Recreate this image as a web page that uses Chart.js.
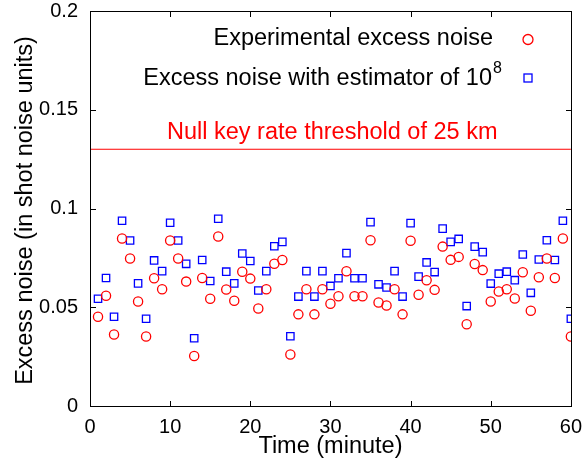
<!DOCTYPE html>
<html>
<head>
<meta charset="utf-8">
<script src="https://cdn.jsdelivr.net/npm/chart.js@4"></script>
<style>
  body { margin: 0; background: #fff; }
  #wrap { width: 583px; height: 465px; }
</style>
</head>
<body>
<div id="wrap"><canvas id="myChart" width="583" height="465"></canvas></div>
<script>
// minutes 1..60
const minutes = Array.from({ length: 60 }, (_, i) => i + 1);

// red circles
const experimentalNoise = [
  0.0452, 0.0558, 0.0362, 0.0848, 0.0747, 0.0529, 0.0352, 0.0647, 0.0591, 0.0838,
  0.0747, 0.0630, 0.0253, 0.0648, 0.0543, 0.0858, 0.0590, 0.0533, 0.0680, 0.0645,
  0.0494, 0.0591, 0.0720, 0.0739, 0.0261, 0.0464, 0.0591, 0.0464, 0.0591, 0.0518,
  0.0556, 0.0682, 0.0556, 0.0556, 0.0839, 0.0524, 0.0509, 0.0591, 0.0464, 0.0837,
  0.0563, 0.0637, 0.0588, 0.0807, 0.0740, 0.0755, 0.0414, 0.0719, 0.0688, 0.0529,
  0.0580, 0.0591, 0.0544, 0.0677, 0.0482, 0.0652, 0.0747, 0.0648, 0.0848, 0.0352
];

// blue squares
const estimatorNoise = [
  0.0543, 0.0648, 0.0452, 0.0938, 0.0838, 0.0621, 0.0442, 0.0737, 0.0683, 0.0928,
  0.0838, 0.0720, 0.0343, 0.0739, 0.0633, 0.0948, 0.0680, 0.0621, 0.0772, 0.0734,
  0.0585, 0.0683, 0.0809, 0.0831, 0.0353, 0.0554, 0.0683, 0.0554, 0.0683, 0.0608,
  0.0647, 0.0774, 0.0647, 0.0647, 0.0931, 0.0616, 0.0600, 0.0683, 0.0554, 0.0926,
  0.0655, 0.0727, 0.0678, 0.0898, 0.0831, 0.0846, 0.0506, 0.0807, 0.0779, 0.0620,
  0.0670, 0.0680, 0.0637, 0.0767, 0.0573, 0.0742, 0.0839, 0.0739, 0.0938, 0.0442
];

const thresholdValue = 0.13;
const xTicks = [0, 10, 20, 30, 40, 50, 60];
const yTicks = [0, 0.05, 0.1, 0.15, 0.2];

const FONT = '"Liberation Sans", Arial, sans-serif';
const BIG = '23.5px ' + FONT;

// frame and inner ticks
function drawFrame(chart) {
  const ctx = chart.ctx;
  const a = chart.chartArea;
  const xs = chart.scales.x, ys = chart.scales.y;
  const L = Math.round(a.left), R = Math.round(a.right);
  const T = Math.round(a.top), B = Math.round(a.bottom);
  ctx.save();
  ctx.fillStyle = '#000000';
  ctx.fillRect(L, T, R - L + 1, 1);
  ctx.fillRect(L, B, R - L + 1, 1);
  ctx.fillRect(L, T, 1, B - T + 1);
  ctx.fillRect(R, T, 1, B - T + 1);
  xTicks.forEach(v => {
    const x = Math.round(xs.getPixelForValue(v));
    ctx.fillRect(x, B - 5, 1, 5);
    ctx.fillRect(x, T + 1, 1, 5);
  });
  yTicks.forEach(v => {
    const y = Math.round(ys.getPixelForValue(v));
    ctx.fillRect(L + 1, y, 5, 1);
    ctx.fillRect(R - 5, y, 5, 1);
  });
  ctx.restore();
}

const framePlugin = {
  id: 'frame',
  beforeDatasetsDraw(chart) { drawFrame(chart); },
  afterDatasetsDraw(chart) { drawFrame(chart); }
};

// titles, legend and threshold label
const textPlugin = {
  id: 'texts',
  afterDraw(chart) {
    const ctx = chart.ctx;
    const a = chart.chartArea;
    ctx.save();
    ctx.fillStyle = '#000000';
    ctx.textBaseline = 'alphabetic';

    ctx.font = BIG;
    ctx.textAlign = 'center';
    ctx.fillText('Time (minute)', (a.left + a.right) / 2, 453);
    ctx.save();
    ctx.translate(32, (a.top + a.bottom) / 2 + 2);
    ctx.rotate(-Math.PI / 2);
    ctx.fillText('Excess noise (in shot noise units)', 0, 0);
    ctx.restore();

    // legend
    ctx.textAlign = 'right';
    ctx.fillText('Experimental excess noise', 493, 45);
    ctx.fillText('Excess noise with estimator of 10', 492, 85);
    ctx.font = '16px ' + FONT;
    ctx.textAlign = 'left';
    ctx.fillText('8', 493, 73);

    ctx.lineWidth = 1.3;
    ctx.strokeStyle = '#ff0000';
    ctx.beginPath();
    ctx.arc(528, 39.5, 5, 0, Math.PI * 2);
    ctx.stroke();
    ctx.strokeStyle = '#0000ff';
    ctx.strokeRect(524, 74, 8, 8);

    // threshold label
    ctx.font = BIG;
    ctx.fillStyle = '#ff0000';
    ctx.textAlign = 'left';
    ctx.fillText('Null key rate threshold of 25 km', 167, 139);
    ctx.restore();
  }
};

new Chart(document.getElementById('myChart'), {
  type: 'scatter',
  data: {
    datasets: [
      {
        label: 'Experimental excess noise',
        data: minutes.map((m, i) => ({ x: m, y: experimentalNoise[i] })),
        pointStyle: 'circle', pointRadius: 4.6, pointBorderWidth: 1.3,
        borderColor: '#ff0000', backgroundColor: 'rgba(0,0,0,0)'
      },
      {
        label: 'Excess noise with estimator of 10^8',
        data: minutes.map((m, i) => ({ x: m, y: estimatorNoise[i] })),
        pointStyle: 'rect', pointRadius: 5.2, pointBorderWidth: 1.3,
        borderColor: '#0000ff', backgroundColor: 'rgba(0,0,0,0)'
      },
      {
        type: 'line',
        label: 'threshold',
        data: [{ x: 0, y: thresholdValue }, { x: 60, y: thresholdValue }],
        borderColor: '#ff0000', borderWidth: 1, pointRadius: 0
      }
    ]
  },
  options: {
    responsive: false,
    animation: false,
    layout: { padding: { top: 11, right: 12, left: 0, bottom: 0 } },
    plugins: { legend: { display: false }, tooltip: { enabled: false } },
    scales: {
      x: {
        type: 'linear', min: 0, max: 60,
        afterFit(s) { s.height = 59; },
        afterBuildTicks(s) { s.ticks = xTicks.map(v => ({ value: v })); },
        grid: { display: false },
        border: { display: false },
        ticks: { color: '#000', font: { size: 20, family: FONT }, padding: 1, maxRotation: 0 }
      },
      y: {
        type: 'linear', min: 0, max: 0.2,
        afterFit(s) { s.width = 90; s.paddingTop = 0; s.paddingBottom = 0; },
        afterBuildTicks(s) { s.ticks = yTicks.map(v => ({ value: v })); },
        grid: { display: false },
        border: { display: false },
        ticks: {
          color: '#000', font: { size: 20, family: FONT }, padding: 4,
          callback: v => String(Math.round(v * 100) / 100)
        }
      }
    }
  },
  plugins: [framePlugin, textPlugin]
});
</script>
</body>
</html>
